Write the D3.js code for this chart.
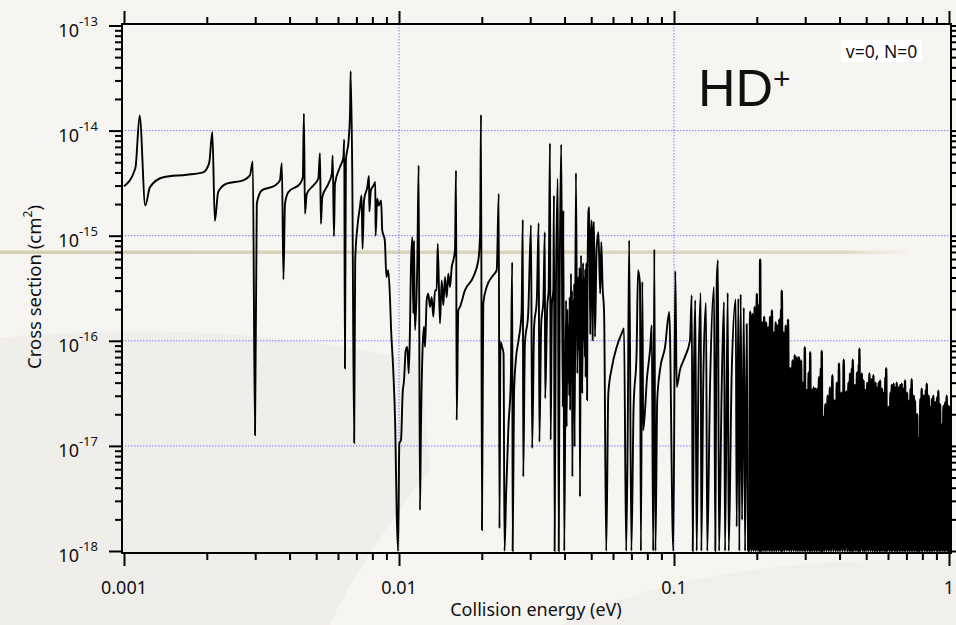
<!DOCTYPE html>
<html>
<head>
<meta charset="utf-8">
<script src="https://cdn.jsdelivr.net/npm/d3@7"></script>
<style>
  html, body { margin: 0; padding: 0; background: #f6f4f0; }
  svg { display: block; }
  text { font-family: "Noto Sans", Lato, sans-serif; fill: #111; }
</style>
</head>
<body>
<div id="chart"></div>
<script>
// cross section vs collision energy
// [energy (eV), sigma (cm^2)]
var lowBand = [
  [1.000e-3, 2.95e-15], [1.10e-3, 4.4e-15], [1.14e-3, 1.39e-14], [1.195e-3, 1.94e-15], [1.243e-3, 2.9e-15],
  [1.39e-3, 3.6e-15], [1.69e-3, 3.8e-15], [1.94e-3, 4.0e-15], [2.04e-3, 4.9e-15], [2.095e-3, 9.7e-15],
  [2.14e-3, 1.38e-15], [2.20e-3, 2.6e-15], [2.36e-3, 3.13e-15], [2.71e-3, 3.36e-15], [2.87e-3, 3.75e-15],
  [2.94e-3, 5.1e-15], [2.995e-3, 1.27e-17], [3.04e-3, 2.02e-15], [3.17e-3, 2.7e-15], [3.54e-3, 3.0e-15],
  [3.69e-3, 3.36e-15], [3.75e-3, 4.9e-15], [3.80e-3, 3.83e-16], [3.85e-3, 2.02e-15], [3.96e-3, 2.6e-15],
  [4.37e-3, 3.13e-15], [4.47e-3, 3.6e-15], [4.51e-3, 1.45e-14], [4.55e-3, 1.62e-15], [4.62e-3, 2.5e-15],
  [4.88e-3, 3.0e-15], [5.09e-3, 3.5e-15], [5.16e-3, 6.1e-15], [5.20e-3, 1.30e-15], [5.26e-3, 2.33e-15],
  [5.54e-3, 3.13e-15], [5.70e-3, 3.9e-15], [5.74e-3, 5.8e-15], [5.80e-3, 9.9e-16], [5.85e-3, 3.13e-15],
  [6.10e-3, 4.5e-15], [6.28e-3, 5.6e-15], [6.32e-3, 8.25e-15], [6.36e-3, 5.46e-17], [6.41e-3, 5.2e-15],
  [6.56e-3, 8.1e-15], [6.64e-3, 1.56e-14], [6.67e-3, 3.68e-14], [6.76e-3, 4.2e-15], [6.87e-3, 1.07e-17],
  [6.93e-3, 5.84e-16], [7.07e-3, 1.26e-15], [7.21e-3, 1.87e-15], [7.31e-3, 2.42e-15], [7.37e-3, 7.5e-16],
  [7.46e-3, 2.17e-15], [7.67e-3, 2.9e-15], [7.78e-3, 3.7e-15], [7.80e-3, 1.7e-15], [7.90e-3, 2.7e-15],
  [8.08e-3, 3.0e-15], [8.20e-3, 3.24e-15], [8.22e-3, 1.0e-15], [8.33e-3, 2.25e-15], [8.44e-3, 1.94e-15],
  [8.61e-3, 2.17e-15], [8.69e-3, 1.13e-15], [8.88e-3, 9.03e-16], [9.00e-3, 4.05e-16], [9.14e-3, 4.7e-16],
  [9.28e-3, 2.43e-16], [9.35e-3, 1.36e-16], [9.53e-3, 5.26e-17], [9.69e-3, 1.52e-17], [9.81e-3, 2.28e-18],
  [9.92e-3, 1.0e-18]
];

var midBand = [
  [1.003e-2, 1.06e-17], [1.017e-2, 1.14e-17], [1.031e-2, 3.16e-17], [1.043e-2, 4.2e-17], [1.058e-2, 8.1e-17],
  [1.072e-2, 8.75e-17], [1.085e-2, 4.9e-17], [1.096e-2, 1.26e-16], [1.105e-2, 5.0e-16], [1.118e-2, 9.7e-16],
  [1.127e-2, 1.82e-16], [1.134e-2, 9.0e-16], [1.143e-2, 1.26e-16], [1.166e-2, 5.84e-16], [1.179e-2, 4.67e-15],
  [1.192e-2, 2.45e-18], [1.202e-2, 1.52e-17], [1.219e-2, 8.75e-17], [1.233e-2, 1.36e-16], [1.243e-2, 8.75e-17],
  [1.261e-2, 2.43e-16], [1.278e-2, 2.81e-16], [1.296e-2, 2.1e-16], [1.315e-2, 2.6e-16], [1.333e-2, 1.69e-16],
  [1.352e-2, 3.03e-16], [1.371e-2, 3.03e-16], [1.383e-2, 8.4e-16], [1.409e-2, 1.46e-16], [1.430e-2, 3.76e-16],
  [1.449e-2, 2.18e-16], [1.470e-2, 4.05e-16], [1.491e-2, 2.6e-16], [1.511e-2, 4.36e-16], [1.533e-2, 3.25e-16],
  [1.555e-2, 5.0e-16], [1.576e-2, 5.84e-16], [1.598e-2, 7.3e-16], [1.612e-2, 4.18e-15], [1.621e-2, 1.76e-17],
  [1.643e-2, 1.95e-16], [1.666e-2, 2.1e-16], [1.738e-2, 3.03e-16], [1.863e-2, 4.05e-16], [1.943e-2, 5.84e-16],
  [1.972e-2, 1.05e-15], [1.987e-2, 1.42e-14], [2.003e-2, 1.58e-18], [2.025e-2, 2.26e-16], [2.083e-2, 3.25e-16],
  [2.20e-2, 4.2e-16], [2.266e-2, 4.7e-16], [2.306e-2, 2.51e-15], [2.319e-2, 1.64e-18], [2.339e-2, 9.77e-17],
  [2.37e-2, 8.75e-17], [2.40e-2, 7.56e-17], [2.42e-2, 1.0e-18], [2.45e-2, 3.28e-18], [2.50e-2, 1.52e-17],
  [2.55e-2, 4.2e-17], [2.58e-2, 5.6e-16], [2.59e-2, 1.0e-18], [2.62e-2, 3.16e-17], [2.66e-2, 6.55e-17],
  [2.72e-2, 1.01e-16], [2.79e-2, 1.82e-16], [2.82e-2, 1.42e-15], [2.83e-2, 5.1e-18], [2.87e-2, 9.4e-17],
  [2.95e-2, 1.82e-16], [3.02e-2, 1.26e-15], [3.05e-2, 9.5e-18], [3.10e-2, 1.36e-16], [3.17e-2, 2.43e-16],
  [3.22e-2, 1.32e-15], [3.24e-2, 1.09e-17], [3.29e-2, 1.46e-16], [3.35e-2, 2.43e-16], [3.39e-2, 1.08e-15],
  [3.40e-2, 2.83e-17], [3.46e-2, 2.1e-16], [3.50e-2, 3.03e-16], [3.54e-2, 7.6e-15], [3.56e-2, 1.14e-17],
  [3.60e-2, 2.26e-16], [3.64e-2, 3.03e-16], [3.66e-2, 2.42e-15], [3.68e-2, 1.0e-18], [3.72e-2, 2.81e-16],
  [3.78e-2, 3.49e-15], [3.81e-2, 1.0e-18], [3.84e-2, 3.25e-16], [3.89e-2, 7.4e-15], [3.94e-2, 2.35e-17],
  [3.96e-2, 1.74e-15], [3.99e-2, 1.0e-18], [4.05e-2, 2.43e-16], [4.07e-2, 1.52e-17], [4.10e-2, 2.0e-16],
  [4.115e-2, 4.0e-17], [4.13e-2, 1.36e-16], [4.16e-2, 3.0e-17], [4.175e-2, 2.6e-16], [4.19e-2, 2.19e-17],
  [4.22e-2, 4.36e-16], [4.245e-2, 6.0e-17], [4.255e-2, 3.0e-16], [4.27e-2, 5.1e-18], [4.30e-2, 2.43e-16],
  [4.325e-2, 5.0e-17], [4.335e-2, 3.5e-16], [4.35e-2, 9.8e-18], [4.40e-2, 3.95e-15], [4.45e-2, 4.9e-17],
  [4.49e-2, 4.05e-16], [4.52e-2, 8.0e-17], [4.535e-2, 5.0e-16], [4.55e-2, 3.28e-18], [4.59e-2, 6.5e-16],
  [4.64e-2, 3.16e-17], [4.67e-2, 5.5e-16], [4.685e-2, 1.0e-16], [4.70e-2, 4.05e-16], [4.74e-2, 7.0e-17],
  [4.755e-2, 4.8e-16], [4.77e-2, 4.5e-17], [4.80e-2, 5.5e-16], [4.83e-2, 2.73e-17], [4.85e-2, 4.36e-16],
  [4.89e-2, 1.74e-15], [4.92e-2, 1.87e-15], [4.96e-2, 1.17e-16], [4.99e-2, 9.0e-16], [5.02e-2, 1.4e-15],
  [5.06e-2, 1.01e-16], [5.09e-2, 1.2e-15], [5.12e-2, 1.35e-15], [5.16e-2, 1.09e-16], [5.23e-2, 7.3e-16],
  [5.31e-2, 1.08e-15], [5.39e-2, 2.81e-16], [5.44e-2, 8.7e-16], [5.50e-2, 3.25e-16], [5.57e-2, 1.82e-16],
  [5.67e-2, 1.0e-18], [5.77e-2, 3.16e-17], [5.95e-2, 5.65e-17], [6.19e-2, 8.75e-17], [6.45e-2, 1.17e-16],
  [6.58e-2, 1.31e-16], [6.70e-2, 1.0e-18], [6.79e-2, 1.52e-17], [6.87e-2, 9.03e-16]
];

var highBand = [
  [7.0e-2, 1.0e-18], [7.13e-2, 2.35e-17], [7.31e-2, 7.56e-17], [7.40e-2, 4.7e-16], [7.52e-2, 3.5e-16],
  [7.58e-2, 1.0e-18], [7.67e-2, 3.63e-16], [7.73e-2, 1.41e-17], [7.98e-2, 4.5e-17], [8.20e-2, 8.75e-17],
  [8.30e-2, 1.41e-16], [8.40e-2, 1.0e-18], [8.48e-2, 7.4e-16], [8.56e-2, 1.0e-18], [8.69e-2, 2.73e-17],
  [8.89e-2, 5.26e-17], [9.28e-2, 8.75e-17], [9.61e-2, 1.88e-16], [9.94e-2, 1.0e-18], [1.011e-1, 4.6e-16],
  [1.023e-1, 3.64e-17], [1.051e-1, 5.26e-17], [1.096e-1, 7.03e-17], [1.143e-1, 1.01e-16], [1.160e-1, 2.71e-16],
  [1.170e-1, 1.0e-18], [1.182e-1, 4.9e-17], [1.195e-1, 2.43e-16], [1.209e-1, 1.0e-18], [1.226e-1, 3.64e-17],
  [1.251e-1, 2.85e-16], [1.257e-1, 1.0e-18], [1.278e-1, 4.2e-17], [1.307e-1, 2.29e-16], [1.321e-1, 1.0e-18],
  [1.352e-1, 3.64e-17], [1.398e-1, 3.25e-16], [1.413e-1, 1.0e-18], [1.430e-1, 3.63e-16], [1.445e-1, 5.84e-16],
  [1.458e-1, 1.0e-18], [1.491e-1, 3.64e-17], [1.520e-1, 2.34e-16], [1.533e-1, 1.0e-18], [1.568e-1, 2.85e-16],
  [1.581e-1, 1.0e-18], [1.621e-1, 4.9e-17], [1.677e-1, 2.47e-16], [1.690e-1, 1.70e-18], [1.714e-1, 2.52e-16],
  [1.728e-1, 1.0e-18], [1.748e-1, 2.76e-16], [1.768e-1, 1.97e-18], [1.794e-1, 2.07e-16], [1.813e-1, 1.0e-18],
  [1.838e-1, 1.44e-16], [1.859e-1, 1.0e-18]
];

// unresolved part above ~0.19 eV, peaks and dips alternate
var denseBand = [
  [0.1875, 1e-18], [0.1893, 1.9e-16], [0.1911, 1e-18], [0.1929, 1.8e-16], [0.1947, 1e-18], [0.1965, 2.1e-16],
  [0.1983, 1e-18], [0.2001, 2.8e-16], [0.2019, 1e-18], [0.2037, 2.2e-16], [0.2050, 1e-18], [0.2057, 5.9e-16],
  [0.2073, 1e-18], [0.2091, 1.5e-16], [0.2109, 1e-18], [0.2127, 1.7e-16], [0.2145, 1e-18], [0.2163, 1.5e-16],
  [0.2181, 1e-18], [0.2199, 1.35e-16], [0.2217, 1e-18], [0.2235, 1.7e-16], [0.2253, 1e-18], [0.2271, 1.95e-16],
  [0.2289, 1e-18], [0.2307, 1.2e-16], [0.2325, 1e-18], [0.2343, 1.5e-16], [0.2361, 1e-18], [0.2379, 1.4e-16],
  [0.2397, 1e-18], [0.2415, 1.6e-16], [0.2433, 1e-18], [0.2451, 2.0e-16], [0.2462, 1e-18], [0.2466, 3.0e-16],
  [0.2487, 1e-18], [0.2505, 1.2e-16], [0.2523, 1e-18], [0.2548, 1.4e-16], [0.2573, 1e-18], [0.2598, 1.6e-16],
  [0.2623, 1e-18], [0.2648, 5.5e-17], [0.2673, 1e-18], [0.2698, 6.5e-17], [0.2723, 1e-18], [0.2748, 7.3e-17],
  [0.2773, 1e-18], [0.2798, 7.0e-17], [0.2823, 1e-18], [0.2848, 7.0e-17], [0.2873, 1e-18], [0.2898, 6.5e-17],
  [0.2923, 1e-18], [0.2948, 4.0e-17], [0.2973, 1e-18], [0.2990, 8.7e-17], [0.3013, 1e-18], [0.3038, 3.4e-17],
  [0.3063, 1e-18], [0.3088, 5.0e-17], [0.3113, 1e-18], [0.3128, 7.8e-17], [0.3148, 1e-18], [0.3168, 3.4e-17],
  [0.3193, 1e-18], [0.3218, 3.6e-17], [0.3243, 1e-18], [0.3268, 3.5e-17], [0.3293, 1e-18], [0.3318, 3.5e-17],
  [0.3343, 1e-18], [0.3368, 4.5e-17], [0.3393, 1e-18], [0.3418, 5.5e-17], [0.3436, 1e-18], [0.3445, 8.0e-17],
  [0.3465, 1e-18], [0.3490, 1.9e-17], [0.3515, 1e-18], [0.3550, 2.5e-17], [0.3585, 1e-18], [0.3620, 3.0e-17],
  [0.3655, 1e-18], [0.3690, 3.6e-17], [0.3725, 1e-18], [0.3767, 4.7e-17], [0.3800, 1e-18], [0.3840, 2.7e-17],
  [0.3875, 1e-18], [0.3910, 4.0e-17], [0.3945, 1e-18], [0.3981, 6.1e-17], [0.4015, 1e-18], [0.4062, 3.2e-17],
  [0.4100, 1e-18], [0.4142, 6.6e-17], [0.4180, 1e-18], [0.4233, 3.3e-17], [0.4270, 1e-18], [0.4310, 4.0e-17],
  [0.4340, 1e-18], [0.4365, 4.9e-17], [0.4400, 1e-18], [0.4435, 5.5e-17], [0.4455, 1e-18], [0.4467, 6.6e-17],
  [0.4505, 1e-18], [0.4553, 3.8e-17], [0.4590, 1e-18], [0.4630, 5.0e-17], [0.4665, 1e-18], [0.4700, 6.0e-17],
  [0.4712, 1e-18], [0.4722, 8.4e-17], [0.4760, 1e-18], [0.4820, 4.9e-17], [0.4855, 1e-18], [0.4890, 4.2e-17],
  [0.4925, 1e-18], [0.4961, 3.4e-17], [0.4995, 1e-18], [0.5045, 4.0e-17], [0.5090, 1e-18], [0.5136, 4.9e-17],
  [0.5180, 1e-18], [0.5230, 4.3e-17], [0.5270, 1e-18], [0.5309, 4.7e-17], [0.5355, 1e-18], [0.5405, 4.0e-17],
  [0.5430, 1e-18], [0.5460, 3.6e-17], [0.5500, 1e-18], [0.5550, 4.0e-17], [0.5590, 1e-18], [0.5616, 4.2e-17],
  [0.5660, 1e-18], [0.5710, 3.5e-17], [0.5745, 1e-18], [0.5774, 3.2e-17], [0.5840, 1e-18], [0.5870, 4.5e-17],
  [0.5890, 1e-18], [0.5910, 5.5e-17], [0.5960, 1e-18], [0.6025, 2.35e-17], [0.6075, 1e-18], [0.6125, 3.2e-17],
  [0.6160, 1e-18], [0.6193, 3.8e-17], [0.6240, 1e-18], [0.6290, 3.9e-17], [0.6340, 1e-18], [0.6390, 3.6e-17],
  [0.6420, 1e-18], [0.6454, 4.0e-17], [0.6500, 1e-18], [0.6550, 3.6e-17], [0.6600, 1e-18], [0.6650, 3.8e-17],
  [0.6690, 1e-18], [0.6730, 3.9e-17], [0.6780, 1e-18], [0.6830, 3.5e-17], [0.6875, 1e-18], [0.6919, 4.2e-17],
  [0.6965, 1e-18], [0.7040, 3.2e-17], [0.7075, 1e-18], [0.7112, 2.7e-17], [0.7180, 1e-18], [0.7250, 3.5e-17],
  [0.7285, 1e-18], [0.7314, 4.3e-17], [0.7380, 1e-18], [0.7450, 3.0e-17], [0.7485, 1e-18], [0.7516, 2.7e-17],
  [0.7590, 1e-18], [0.7660, 2.0e-17], [0.7700, 1e-18], [0.7727, 1.2e-17], [0.7800, 1e-18], [0.7870, 2.8e-17],
  [0.7915, 1e-18], [0.7954, 3.5e-17], [0.8025, 1e-18], [0.8095, 3.0e-17], [0.8165, 1e-18], [0.8235, 3.4e-17],
  [0.8270, 1e-18], [0.8299, 3.9e-17], [0.8370, 1e-18], [0.8440, 3.0e-17], [0.8490, 1e-18], [0.8530, 2.35e-17],
  [0.8600, 1e-18], [0.8670, 2.8e-17], [0.8720, 1e-18], [0.8767, 3.0e-17], [0.8840, 1e-18], [0.8910, 2.6e-17],
  [0.8980, 1e-18], [0.9050, 2.9e-17], [0.9100, 1e-18], [0.9143, 3.35e-17], [0.9210, 1e-18], [0.9280, 2.5e-17],
  [0.9340, 1e-18], [0.9408, 1.6e-17], [0.9480, 1e-18], [0.9550, 2.4e-17], [0.9620, 1e-18], [0.9690, 2.6e-17],
  [0.9740, 1e-18], [0.9809, 3.0e-17], [0.9880, 1e-18], [0.9950, 2.4e-17], [0.9980, 1e-18], [1.0000, 2.4e-17]
];

var xMajor = [0.001, 0.01, 0.1, 1];
var xTickLabels = ["0.001", "0.01", "0.1", "1"];
var yMajor = [1e-13, 1e-14, 1e-15, 1e-16, 1e-17, 1e-18];
var yTickExponents = ["-13", "-14", "-15", "-16", "-17", "-18"];
var xGrid = [0.01, 0.1];
var yGrid = [1e-14, 1e-15, 1e-16, 1e-17];

var svgWidth = 956;
var svgHeight = 625;

// frame of the plot box
var frame = { left: 122, right: 951, top: 24, bottom: 553 };

var svg = d3.select("#chart")
  .append("svg")
  .attr("width", svgWidth)
  .attr("height", svgHeight);

// faded backdrop
svg.append("rect")
  .attr("width", svgWidth)
  .attr("height", svgHeight)
  .attr("fill", "#f7f5f1");
svg.append("path")
  .attr("d", "M0,338 C120,326 280,328 420,362 L430,470 C390,520 350,580 330,625 L0,625 Z")
  .attr("fill", "#f0eeea");
svg.append("path")
  .attr("d", "M560,625 C640,585 760,556 956,560 L956,625 Z")
  .attr("fill", "#f1efeb");

var defs = svg.append("defs");
var fade = defs.append("linearGradient")
  .attr("id", "fade")
  .attr("x1", "0").attr("x2", "1").attr("y1", "0").attr("y2", "0");
fade.append("stop").attr("offset", "0%").attr("stop-color", "#d3d1b4").attr("stop-opacity", 1);
fade.append("stop").attr("offset", "93%").attr("stop-color", "#d8d6bd").attr("stop-opacity", 0.9);
fade.append("stop").attr("offset", "100%").attr("stop-color", "#e6e4d6").attr("stop-opacity", 0.2);

svg.append("rect")
  .attr("x", 0).attr("y", 250.5)
  .attr("width", 908).attr("height", 3.5)
  .attr("fill", "url(#fade)");

defs.append("clipPath").attr("id", "plotClip")
  .append("rect")
  .attr("x", frame.left).attr("y", frame.top)
  .attr("width", frame.right - frame.left)
  .attr("height", frame.bottom - frame.top);

var xScale = d3.scaleLog().domain([0.001, 1]).range([124, 949]);
var yScale = d3.scaleLog().domain([1e-18, 1e-13]).range([551, 25.5]);

// grid
var gridGroup = svg.append("g")
  .attr("stroke", "#7d7dff")
  .attr("stroke-width", 1)
  .attr("stroke-dasharray", "1.5,1.5");
gridGroup.selectAll(".gx")
  .data(xGrid)
  .enter()
  .append("line")
  .attr("x1", d => xScale(d)).attr("x2", d => xScale(d))
  .attr("y1", frame.top).attr("y2", frame.bottom);
gridGroup.selectAll(".gy")
  .data(yGrid)
  .enter()
  .append("line")
  .attr("x1", frame.left).attr("x2", frame.right)
  .attr("y1", d => yScale(d)).attr("y2", d => yScale(d));

// the curve: resolved part, then the dense part drawn a bit heavier
var resolved = lowBand.concat(midBand, highBand);
var dense = [highBand[highBand.length - 1]].concat(denseBand);
var line = d3.line()
  .curve(d3.curveMonotoneX)
  .x(d => xScale(d[0]))
  .y(d => yScale(d[1]));

svg.append("path")
  .datum(resolved)
  .attr("clip-path", "url(#plotClip)")
  .attr("fill", "none")
  .attr("stroke", "#000")
  .attr("stroke-width", 1.9)
  .attr("d", line);

svg.append("path")
  .datum(dense)
  .attr("clip-path", "url(#plotClip)")
  .attr("fill", "none")
  .attr("stroke", "#000")
  .attr("stroke-width", 2.4)
  .attr("d", line);

// axes: ticks only, the frame is drawn as a box
var xMinor = xScale.ticks().filter(d => xMajor.indexOf(d) < 0);
var yMinor = yScale.ticks().filter(d => yMajor.indexOf(d) < 0);

function tickAxis(axisFn, scale, values, size, transform) {
  var g = svg.append("g")
    .attr("transform", transform)
    .call(axisFn(scale).tickValues(values).tickSize(size).tickSizeOuter(0).tickFormat(""));
  g.select(".domain").remove();
  g.selectAll(".tick line").attr("stroke", "#000").attr("stroke-width", 2);
  return g;
}

tickAxis(d3.axisTop, xScale, xMajor, 13, "translate(0," + frame.top + ")");
tickAxis(d3.axisTop, xScale, xMinor, 7, "translate(0," + frame.top + ")");
tickAxis(d3.axisBottom, xScale, xMajor, 13, "translate(0," + frame.bottom + ")");
tickAxis(d3.axisBottom, xScale, xMinor, 7, "translate(0," + frame.bottom + ")");
tickAxis(d3.axisLeft, yScale, yMajor, 13, "translate(" + frame.left + ",0)");
tickAxis(d3.axisLeft, yScale, yMinor, 7, "translate(" + frame.left + ",0)");
tickAxis(d3.axisRight, yScale, yMajor, 13, "translate(" + frame.right + ",0)");
tickAxis(d3.axisRight, yScale, yMinor, 7, "translate(" + frame.right + ",0)");

svg.append("rect")
  .attr("x", frame.left).attr("y", frame.top)
  .attr("width", frame.right - frame.left)
  .attr("height", frame.bottom - frame.top)
  .attr("fill", "none")
  .attr("stroke", "#000")
  .attr("stroke-width", 2);

// tick labels
svg.selectAll(".xlab")
  .data(xMajor)
  .enter()
  .append("text")
  .attr("x", d => xScale(d))
  .attr("y", 594)
  .attr("text-anchor", "middle")
  .style("font-size", "18px")
  .text((d, i) => xTickLabels[i]);

var yLabels = svg.selectAll(".ylab")
  .data(yMajor)
  .enter()
  .append("text")
  .attr("x", 98)
  .attr("y", d => yScale(d) + 11)
  .attr("text-anchor", "end")
  .style("font-size", "18px");
yLabels.append("tspan").text("10");
yLabels.append("tspan")
  .attr("dy", -11)
  .style("font-size", "13px")
  .text((d, i) => yTickExponents[i]);

// axis titles
svg.append("text")
  .attr("x", 536)
  .attr("y", 616)
  .attr("text-anchor", "middle")
  .style("font-size", "18px")
  .text("Collision energy (eV)");

var yTitle = svg.append("text")
  .attr("transform", "translate(41,287) rotate(-90)")
  .attr("text-anchor", "middle")
  .style("font-size", "18.5px");
yTitle.append("tspan").text("Cross section (cm");
yTitle.append("tspan").attr("dy", -9).style("font-size", "12px").text("2");
yTitle.append("tspan").attr("dy", 9).text(")");

// annotations
var hd = svg.append("text")
  .attr("x", 698)
  .attr("y", 106)
  .style("font-family", "'Liberation Sans', Arial, sans-serif")
  .style("font-size", "52px");
hd.append("tspan").text("HD");
hd.append("tspan").attr("dy", -17).style("font-size", "30px").text("+");

svg.append("rect")
  .attr("x", 841).attr("y", 40)
  .attr("width", 81).attr("height", 22)
  .attr("fill", "#fff");
svg.append("text")
  .attr("x", 881.5)
  .attr("y", 58)
  .attr("text-anchor", "middle")
  .style("font-size", "17.5px")
  .text("v=0, N=0");
</script>
</body>
</html>
